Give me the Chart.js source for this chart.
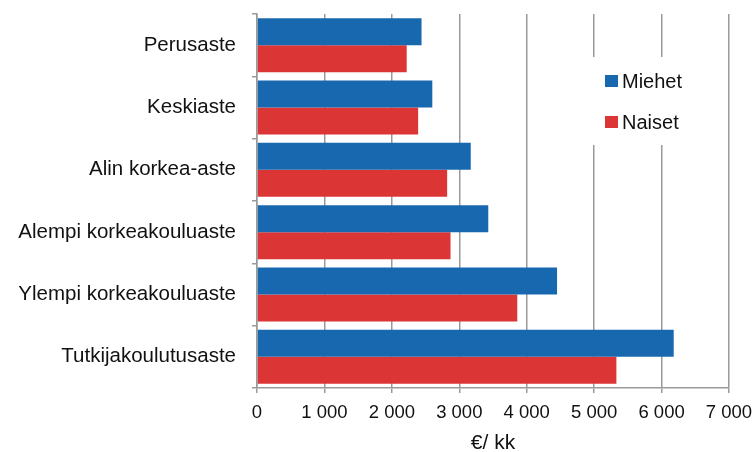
<!DOCTYPE html>
<html>
<head>
<meta charset="utf-8">
<script src="https://cdn.jsdelivr.net/npm/chart.js@4/dist/chart.umd.min.js"></script>
<style>
  html, body { margin: 0; padding: 0; background: #fff; }
  #wrap { width: 754px; height: 452px; }
</style>
</head>
<body>
<div id="wrap"><canvas id="chart"></canvas></div>
<script>
// Earnings by education level, € per month
const categories = ['Perusaste', 'Keskiaste', 'Alin korkea-aste', 'Alempi korkeakouluaste', 'Ylempi korkeakouluaste', 'Tutkijakoulutusaste'];
const miehet = [2440, 2600, 3170, 3430, 4450, 6180];
const naiset = [2220, 2390, 2820, 2870, 3860, 5330];
const seriesLabels = ['Miehet', 'Naiset'];
const xMax = 7000;
const xStep = 1000;
const axisTitle = '€/ kk';

const FONT = "'Liberation Sans', Arial, sans-serif";
const GRID = '#9a9a9a';

function fmtThousands(v) {
    return String(v).replace(/\B(?=(\d{3})+(?!\d))/g, ' ');
}

// Legend drawn inside the plot area, on a white box over the grid lines.
const innerLegend = {
    id: 'innerLegend',
    afterDraw(chart) {
        const ctx = chart.ctx;
        ctx.save();
        ctx.fillStyle = '#fff';
        ctx.fillRect(590, 57, 126, 88);
        ctx.font = `20px ${FONT}`;
        ctx.textBaseline = 'middle';
        chart.data.datasets.forEach((ds, i) => {
            const y = 81 + i * 41;
            ctx.fillStyle = ds.backgroundColor;
            ctx.fillRect(605, y - 6, 13, 12);
            ctx.fillStyle = '#111';
            ctx.fillText(ds.label, 622, y + 1);
        });
        ctx.restore();
    }
};

new Chart(document.getElementById('chart').getContext('2d'), {
    type: 'bar',
    data: {
        labels: categories,
        datasets: [
            { label: seriesLabels[0], data: miehet, backgroundColor: '#1868b0', categoryPercentage: 0.867, barPercentage: 1.0 },
            { label: seriesLabels[1], data: naiset, backgroundColor: '#dc3535', categoryPercentage: 0.867, barPercentage: 1.0 }
        ]
    },
    options: {
        indexAxis: 'y',
        responsive: true, maintainAspectRatio: false,
        animation: false,
        layout: { padding: { top: 14, right: 25, left: 0, bottom: 0 } },
        plugins: { legend: { display: false }, tooltip: { enabled: false } },
        scales: {
            x: {
                min: 0, max: xMax,
                afterFit: s => { s.height = 64; s.paddingLeft = 0; s.paddingRight = 0; },
                ticks: {
                    stepSize: xStep, color: '#111', padding: 9,
                    font: { family: FONT, size: 18.5 },
                    callback: v => fmtThousands(v),
                    maxRotation: 0, autoSkip: false
                },
                grid: { color: GRID, lineWidth: 1.5, tickLength: 5 },
                border: { color: GRID, width: 1.5 },
                title: {
                    display: true, text: axisTitle, color: '#111',
                    font: { family: FONT, size: 21 }, padding: { top: 2, bottom: -4 }
                }
            },
            y: {
                afterFit: s => { s.width = 257; s.paddingTop = 0; s.paddingBottom = 0; },
                ticks: { color: '#111', padding: 16, font: { family: FONT, size: 20.5 } },
                grid: { drawOnChartArea: false, color: GRID, lineWidth: 1.5, tickLength: 5 },
                border: { color: GRID, width: 1.5 }
            }
        }
    },
    plugins: [innerLegend]
});
</script>
</body>
</html>
